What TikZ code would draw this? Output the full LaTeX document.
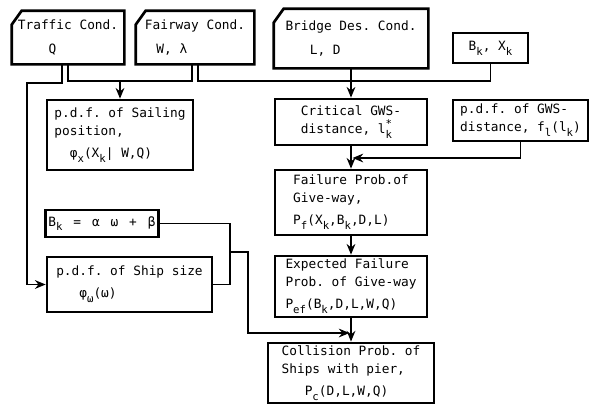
\documentclass[tikz,border=0pt]{standalone}
\usepackage{fontspec}
\setmonofont{DejaVu Sans Mono}
\usetikzlibrary{arrows.meta}
\newcommand{\lowr}[1]{\raisebox{-0.7ex}{\footnotesize #1}}

\begin{document}
\begin{tikzpicture}[x=0.75pt,y=-0.75pt,
  box/.style={draw,line width=2pt,inner sep=2pt,align=left,font=\fontsize{9.6}{13.5}\selectfont\ttfamily},
  cond/.style={box,draw=none},
  link/.style={line width=1.4pt},
  arr/.style={link,-{Stealth[length=8pt,width=6.5pt]}}]
\useasboundingbox (0,0) rectangle (591,405);

% input conditions
\node[cond,minimum width=82.5pt,minimum height=38.25pt] (traffic) at (68,37.5) {Traffic Cond.\\[4pt]\hspace{2.4em}Q};
\node[cond,minimum width=87pt,minimum height=38.25pt] (fairway) at (195,37.5) {Fairway Cond.\\[4pt]\hspace{0.9em}W, λ};
\node[cond,minimum width=114pt,minimum height=42.75pt] (bridge) at (351,38.5) {Bridge Des. Cond.\\[4pt]\hspace{1.9em}L, D};
\node[box,minimum width=56.25pt,minimum height=22.5pt] (bkxk) at (490.5,48) {B\lowr{k}, X\lowr{k}};
\foreach \n in {traffic,fairway,bridge}
  \draw[line width=2pt] ([yshift=-10.5pt]\n.north west) -- ([xshift=7.5pt]\n.north west) -- (\n.north east) -- (\n.south east) -- (\n.south west) -- cycle;

\node[box,minimum width=109.5pt,minimum height=52.5pt] (sailing) at (120,135) {p.d.f. of Sailing\\position,\\[3pt]~~φ\lowr{x}(X\lowr{k}| W,Q)};
\node[box,minimum width=114pt,minimum height=34.5pt] (critical) at (351,122) {Critical GWS-\\distance, l\rlap{\raisebox{0.9ex}{\footnotesize *}}\lowr{k}};
\node[box,minimum width=101.25pt,minimum height=30.75pt] (gws) at (520.5,120.5) {p.d.f. of GWS-\\distance, f\lowr{l}(l\lowr{k})};
\node[box,minimum width=114pt,minimum height=48.75pt] (failure) at (351,202.5) {Failure Prob.of\\Give-way,\\[3pt]P\lowr{f}(X\lowr{k},B\lowr{k},D,L)};
\node[box,minimum width=82.5pt,minimum height=20.25pt] (bkeq) at (102,223.5) {B\lowr{k}\hspace{0.85em}=\hspace{0.85em}α\hspace{0.85em}ω\hspace{0.85em}+\hspace{0.85em}β};
\node[box,minimum width=123.75pt,minimum height=41.25pt] (ship) at (129.5,284.5) {p.d.f. of Ship size\\[3pt]~~~φ\lowr{ω}(ω)};
\node[box,minimum width=114pt,minimum height=45.75pt] (expected) at (351,286.5) {Expected Failure\\Prob. of Give-way\\[3pt]P\lowr{ef}(B\lowr{k},D,L,W,Q)};
\node[box,minimum width=124.5pt,minimum height=45pt] (collision) at (351,373) {Collision Prob. of\\Ships with pier,\\[3pt]~~~P\lowr{c}(D,L,W,Q)};

\coordinate (tq) at (27,83);
\coordinate (ts) at (120,81);
\coordinate (fb) at (351,81);
\coordinate (gj) at (352.5,158);
\coordinate (sj) at (230,252);
\coordinate (sb) at (248,333);
\coordinate (cj) at (349.5,333);

\draw[arr] ([xshift=-4.5pt]traffic.south) |- (tq) |- (ship.west);
\draw[link] (traffic.south) |- (ts) -| ([xshift=-2.25pt]fairway.south);
\draw[arr] (ts) -- (sailing.north);
\draw[link] ([xshift=2.25pt]fairway.south) |- (fb) -| (bkxk.south);
\draw[arr] (bridge.south) -- (critical.north);
\draw[arr] (gws.south) |- (gj);
\draw[arr] (critical.south) -- (failure.north);
\draw[arr] (failure.south) -- (expected.north);
\draw[arr] (expected.south) -- (collision.north);
\draw[link] (bkeq.east) -| (sj) |- (ship.east);
\draw[arr] (sj) -| (sb) -- (cj);
\end{tikzpicture}
\end{document}
